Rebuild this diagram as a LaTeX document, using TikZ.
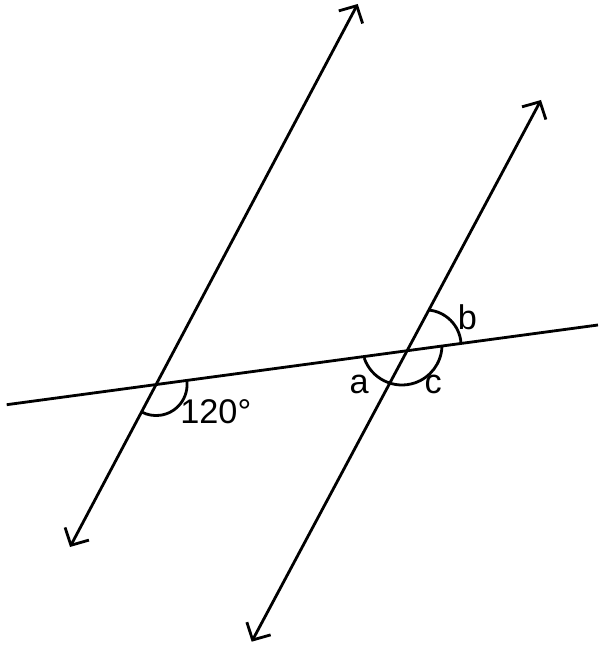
\documentclass[tikz,border=0pt]{standalone}
\usepackage{fontspec}
\setmainfont{Liberation Sans}
\usetikzlibrary{arrows.meta}
\begin{document}
\begin{tikzpicture}[line width=1.6pt, >={Straight Barb[length=2.6mm,width=5.4mm]}]
\useasboundingbox (0,0) rectangle (12.02,12.92);
\coordinate (l1) at (1.40,1.98);
\coordinate (l2) at (7.154,12.84);
\coordinate (r1) at (5.034,0.086);
\coordinate (r2) at (10.82,10.92);
\coordinate (t1) at (0.134,4.826);
\coordinate (t2) at (11.96,6.42);
\coordinate (p) at (intersection of l1--l2 and t1--t2);
\coordinate (bc) at (8.508,6.008);
\coordinate (ac) at (8.04,6.02);
\draw[<->] (l1)--(l2);
\draw[<->] (r1)--(r2);
\draw (t1)--(t2);
% angle arcs
\draw ([shift={(7.7:0.62)}]p) arc (7.7:-117.9:0.62);
\draw ([shift={(4.7:0.714)}]bc) arc (4.7:85:0.714);
\draw ([shift={(199:0.8)}]ac) arc (199:357.5:0.8);
% labels
\node[inner sep=0, font=\fontsize{19.5}{23}\selectfont] (deg) at (4.316,4.694) {120°};
\node[inner sep=0, font=\fontsize{19.5}{23}\selectfont] (a) at (7.184,5.236) {a};
\node[inner sep=0, font=\fontsize{19.5}{23}\selectfont] (b) at (9.35,6.57) {b};
\node[inner sep=0, font=\fontsize{19.5}{23}\selectfont] (c) at (8.666,5.236) {c};
\end{tikzpicture}
\end{document}
